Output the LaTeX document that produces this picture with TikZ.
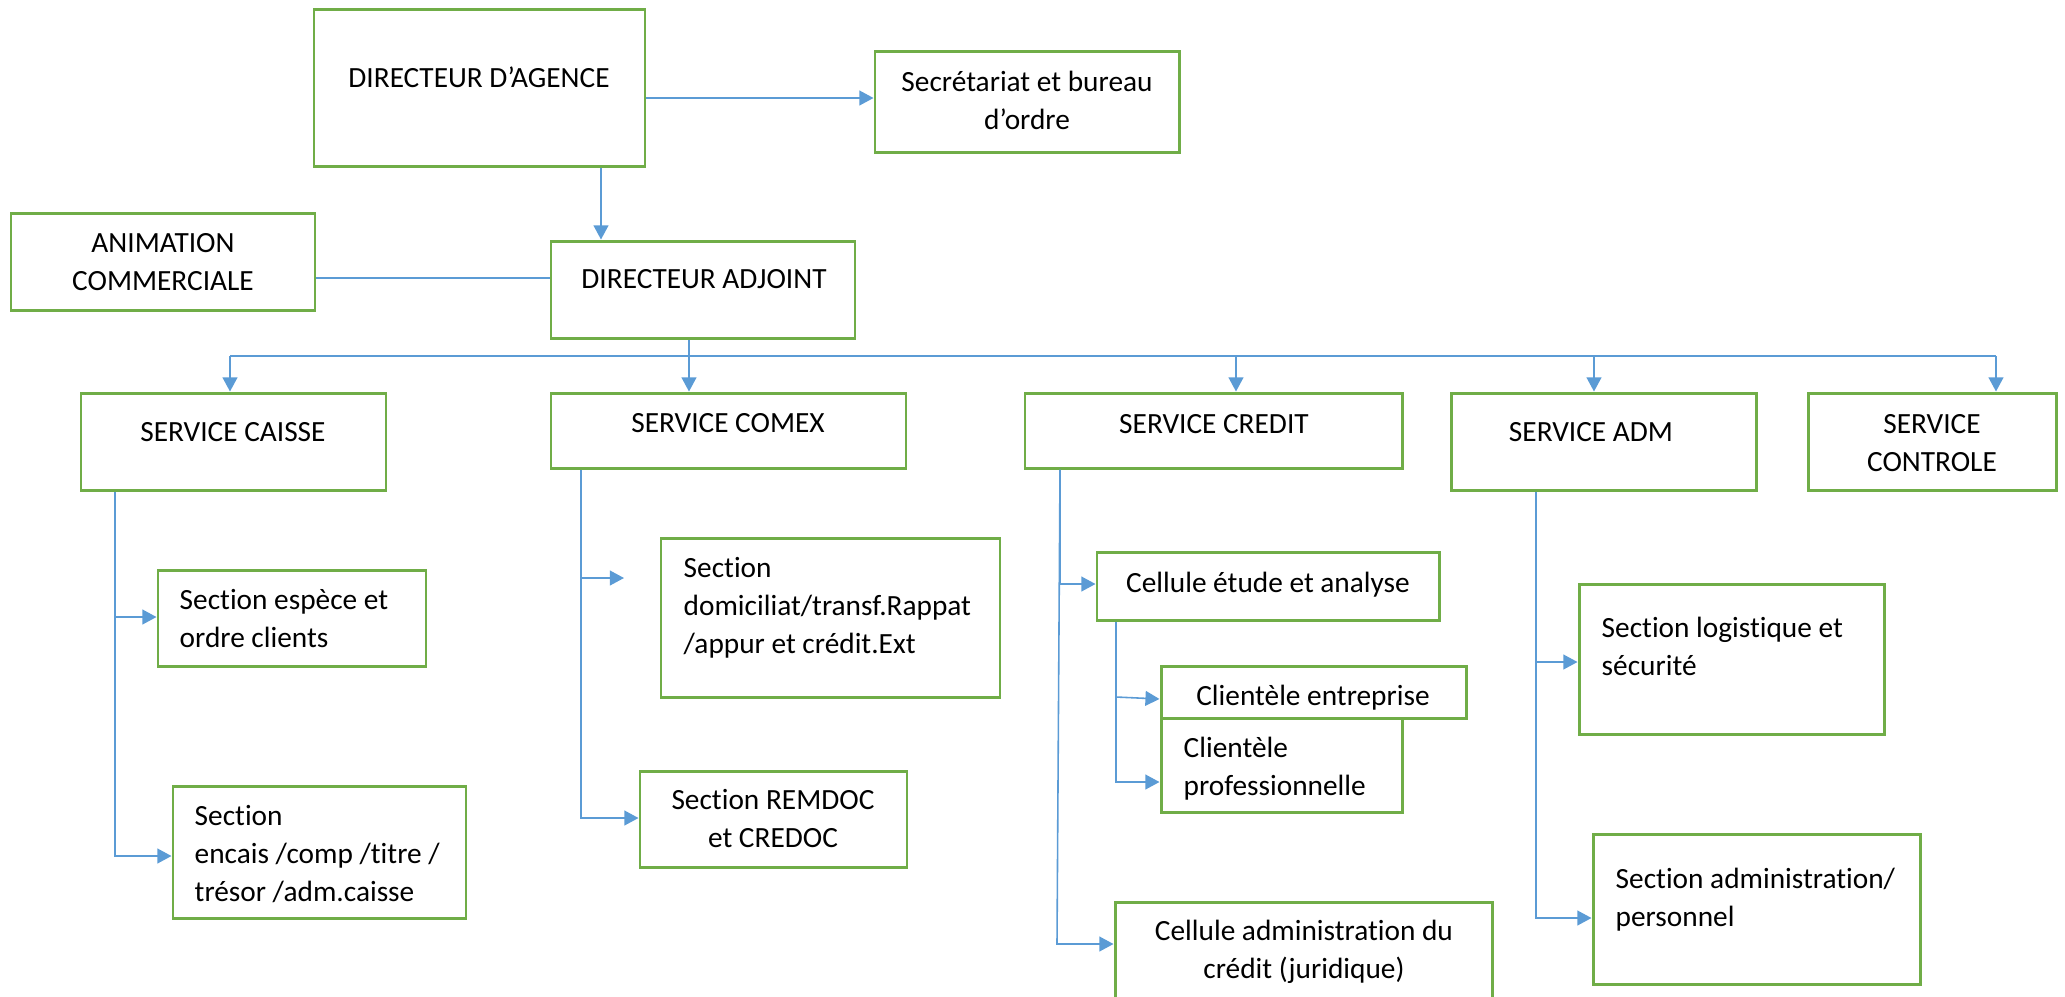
\documentclass[tikz,border=0pt]{standalone}
\usepackage{fontspec}
\setmainfont{Carlito}[Ligatures={TeX,NoCommon}]
\usetikzlibrary{arrows.meta,fit}

\definecolor{boxgreen}{RGB}{112,173,71}
\definecolor{linkblue}{RGB}{91,155,213}

\begin{document}
\begin{tikzpicture}[x=0.01cm,y=-0.01cm,
    boite/.style={draw=boxgreen, line width=0.85pt, inner sep=0pt},
    txt/.style={inner sep=0pt, anchor=north, align=center, font=\fontsize{8.34}{10.8}\selectfont},
    txtg/.style={txt, anchor=north west, align=left},
    lien/.style={draw=linkblue, line width=0.45pt},
    fleche/.style={lien, -{Triangle[length=4pt,width=4.2pt]}}]
        \useasboundingbox (0,0) rectangle (2065,996);

        % Direction
        \node[boite, fit={(314,9) (645,166)}] (dag) {};
        \node[boite, fit={(875,51) (1179,152)}] (sec) {};
        \node[boite, fit={(11,213) (315,310)}] (anim) {};
        \node[boite, fit={(551,241) (855,338)}] (dadj) {};

        \node[txt] (dag-t) at (479,60) {\strut DIRECTEUR D’AGENCE};
        \node[txt] (sec-t) at (1027,64) {\strut Secrétariat et bureau\\d’ordre};
        \node[txt] (anim-t) at (163,225) {\strut ANIMATION\\COMMERCIALE};
        \node[txt] (dadj-t) at (704,261) {\strut DIRECTEUR ADJOINT};

        % Services
        \node[boite, fit={(81,393) (386,490)}] (caisse) {};
        \node[boite, fit={(551,393) (906,468)}] (comex) {};
        \node[boite, fit={(1025,393) (1402,468)}] (credit) {};
        \node[boite, fit={(1451,393) (1756,490)}] (adm) {};
        \node[boite, fit={(1808,393) (2056,490)}] (controle) {};

        \node[txt] (caisse-t) at (233,414) {\strut SERVICE CAISSE};
        \node[txt] (comex-t) at (728,405) {\strut SERVICE COMEX};
        \node[txt] (credit-t) at (1214,406) {\strut SERVICE CREDIT};
        \node[txt] (adm-t) at (1591,414) {\strut SERVICE ADM};
        \node[txt] (controle-t) at (1932,406) {\strut SERVICE\\CONTROLE};

        % Sections and cells
        \node[boite, fit={(158,570) (426,666)}] (espece) {};
        \node[boite, fit={(173,786) (466,918)}] (encais) {};
        \node[boite, fit={(661,538) (1000,697)}] (domic) {};
        \node[boite, fit={(640,771) (907,867)}] (remdoc) {};
        \node[boite, fit={(1097,552) (1439,620)}] (etude) {};
        \node[boite, fit={(1161,666) (1466,718)}] (cent) {};
        \node[boite, fit={(1161,718) (1402,812)}] (cpro) {};
        \node[boite, fit={(1115,902) (1492,1010)}] (cadm) {};
        \node[boite, fit={(1579,584) (1884,734)}] (logi) {};
        \node[boite, fit={(1593,834) (1920,984)}] (sadm) {};

        \node[txtg] (espece-t) at (179,582) {\strut Section espèce et\\ordre clients};
        \node[txtg] (encais-t) at (194,798) {\strut Section\\encais /comp /titre /\\trésor /adm.caisse};
        \node[txtg] (domic-t) at (683,550) {\strut Section\\domiciliat/transf.Rappat\\/appur et crédit.Ext};
        \node[txt] (remdoc-t) at (773,782) {\strut Section REMDOC\\et CREDOC};
        \node[txt] (etude-t) at (1268,565) {\strut Cellule étude et analyse};
        \node[txt] (cent-t) at (1313,678) {\strut Clientèle entreprise};
        \node[txtg] (cpro-t) at (1183,730) {\strut Clientèle\\professionnelle};
        \node[txt] (cadm-t) at (1304,913) {\strut Cellule administration du\\crédit (juridique)};
        \node[txtg] (logi-t) at (1601,610) {\strut Section logistique et\\sécurité};
        \node[txtg] (sadm-t) at (1615,861) {\strut Section administration/\\personnel};

        % Links from the top
        \draw[fleche] (dag.south -| 601,0) -- (dadj.north -| 601,0);
        \draw[fleche] (dag.east |- 0,98) -- (sec.west |- 0,98);
        \draw[lien] (anim.east |- 0,278) -- (dadj.west |- 0,278);

        % Bus to the services
        \coordinate (busG) at (230,356);
        \coordinate (busC) at (1236,356);
        \coordinate (busA) at (1594,356);
        \coordinate (busD) at (1996,356);
        \draw[fleche] (dadj.south -| 689,0) -- (comex.north -| 689,0);
        \draw[lien] (busG) -- (busD);
        \draw[fleche] (busG) -- (caisse.north -| busG);
        \draw[fleche] (busC) -- (credit.north -| busC);
        \draw[fleche] (busA) -- (adm.north -| busA);
        \draw[fleche] (busD) -- (controle.north -| busD);

        % Service caisse
        \draw[fleche] (caisse.south -| 115,0) |- (espece.west |- 0,617);
        \draw[fleche] (caisse.south -| 115,0) |- (encais.west |- 0,856);

        % Service comex
        \coordinate (domfin) at (624,578);
        \draw[fleche] (comex.south -| 581,0) |- (domfin);
        \draw[fleche] (comex.south -| 581,0) |- (remdoc.west |- 0,818);

        % Service credit
        \draw[fleche] (credit.south -| 1060,0) |- (etude.west |- 0,584);
        \draw[fleche] (credit.south -| 1060,0) -- (1057,944) -- (cadm.west |- 0,944);
        \coordinate (etudeV) at (1116,697);
        \draw[fleche] (etudeV) -- (cent.west |- 0,699);
        \draw[fleche] (etude.south -| 1116,0) |- (cpro.west |- 0,782);

        % Service adm
        \draw[fleche] (adm.south -| 1536,0) |- (logi.west |- 0,662);
        \draw[fleche] (adm.south -| 1536,0) |- (sadm.west |- 0,918);
\end{tikzpicture}
\end{document}
